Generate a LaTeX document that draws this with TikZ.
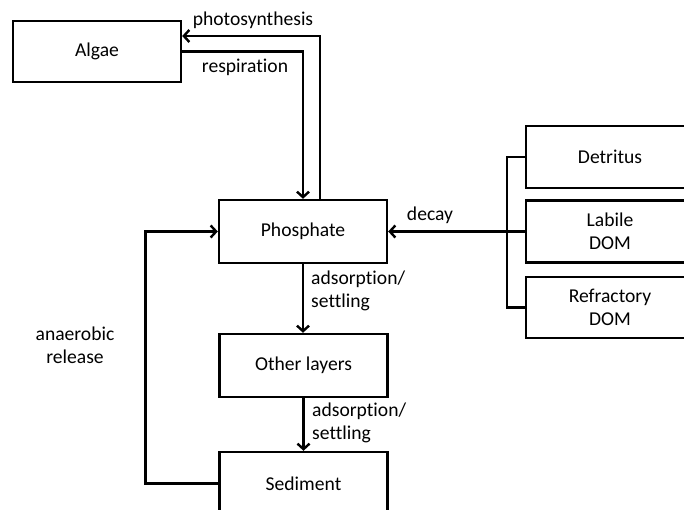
\documentclass[tikz,border=0pt]{standalone}
\usepackage{fontspec}
\setmainfont{Carlito}[Ligatures=NoCommon]
\usetikzlibrary{arrows.meta}
\begin{document}
\begin{tikzpicture}[x=1pt,y=-1pt,
  font=\fontsize{19.6}{24}\selectfont,
  box/.style={draw,line width=2.4pt,rectangle,minimum width=168pt,inner sep=0pt,align=center},
  link/.style={line width=2.4pt},
  arr/.style={link,-{Straight Barb[length=5.5pt,width=12pt]}},
  lbl/.style={inner sep=0pt}]
\useasboundingbox (0,0) rectangle (684,510);
\clip (0,0) rectangle (684,510);

% compartments
\node[box,minimum height=61pt] (algae) at (97,51.5) {Algae};
\node[box,minimum height=63pt] (phos)  at (303,231.5) {Phosphate};
\node[box,minimum height=63pt] (other) at (303.5,365.5) {Other layers};
\node[box,minimum height=63pt] (sed)   at (303.5,483.5) {Sediment};
\node[box,minimum height=62pt] (detr)  at (610,157) {Detritus};
\node[box,minimum height=62pt] (lab)   at (610,231.5) {Labile\\[-1pt]DOM};
\node[box,minimum height=61pt] (refr)  at (610,307.5) {Refractory\\[-1pt]DOM};

% algae exchange
\draw[arr] ([xshift=17pt]phos.north) |- ([yshift=15.5pt]algae.east);
\draw[arr] (algae.east) -| (phos.north);

% organic matter decay
\draw[link] (detr.west) -- ++(-18,0) |- (refr.west);
\draw[arr] (lab.west) -- (phos.east);

% settling and release
\draw[arr] (phos.south) -- (other.north -| phos.south);
\draw[arr] (other.south) -- (sed.north);
\draw[arr] (sed.west) -- ++(-73,0) |- (phos.west);

% flux labels
\node[lbl] (lphoto) at (253,20) {photosynthesis};
\node[lbl] (lresp) at (245,67) {respiration};
\node[lbl] (ldecay) at (430,215) {decay};
\node[lbl,anchor=west,align=left] (lads1) at (311,291) {adsorption/\\[-1pt]settling};
\node[lbl,anchor=west,align=left] (lads2) at (312,423) {adsorption/\\[-1pt]settling};
\node[lbl,align=center] (lanae) at (75,345) {anaerobic\\[-1pt]release};
\end{tikzpicture}
\end{document}
